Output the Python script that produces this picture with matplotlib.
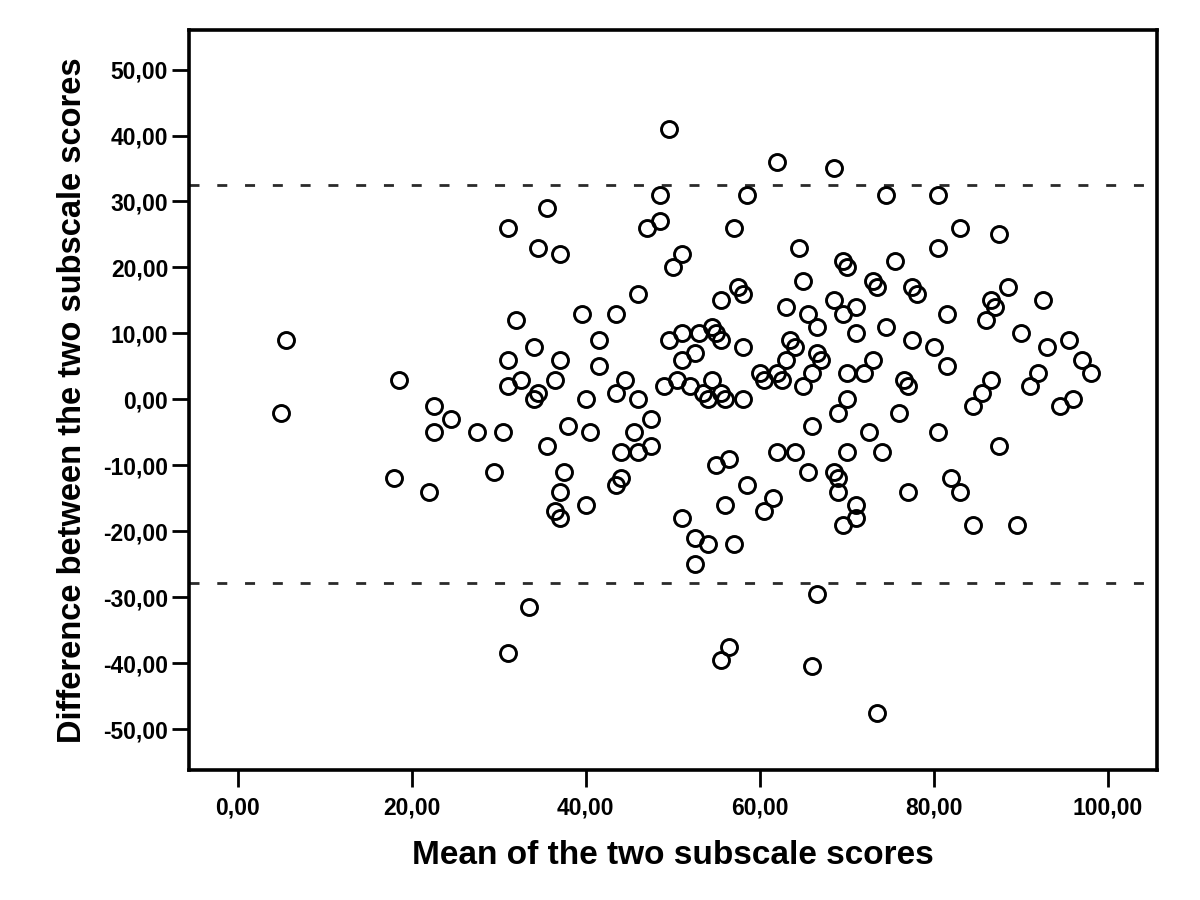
import numpy as np
import matplotlib
matplotlib.use("Agg")
import matplotlib.pyplot as plt
from matplotlib.ticker import FuncFormatter

# mean of the two subscale scores (x) and their difference (y)
mean_left = [5, 5.5, 18.5, 18, 22, 22.5, 22.5, 24.5, 27.5, 29.5, 30.5, 31, 31, 31, 32, 32.5,
             33.5, 31, 34, 34, 34.5, 34.5, 35.5, 35.5, 36.5, 36.5, 37, 37, 37, 37, 37.5, 38,
             39.5, 40, 40, 40.5, 41.5, 41.5, 43.5, 43.5, 43.5, 44, 44, 44.5, 45.5, 46, 46, 46,
             47, 47.5, 47.5, 48.5, 48.5, 49, 49.5, 49.5, 50, 50.5, 51, 51, 51, 51, 52, 52.5,
             52.5, 52.5, 53, 53.5, 54, 54, 54.5, 55, 55.5, 54.5, 55, 55.5, 55.5, 55.5, 56, 56,
             56.5, 56.5, 57, 57, 57.5, 58, 58, 58, 58.5, 58.5]
diff_left = [-2, 9, 3, -12, -14, -1, -5, -3, -5, -11, -5, 26, 6, 2, 12, 3,
             -31.5, -38.5, 0, 8, 23, 1, 29, -7, 3, -17, 6, 22, -14, -18, -11, -4,
             13, 0, -16, -5, 9, 5, 13, 1, -13, -12, -8, 3, -5, 16, 0, -8,
             26, -3, -7, 27, 31, 2, 41, 9, 20, 3, 22, 10, 6, -18, 2, 7,
             -21, -25, 10, 1, 0, -22, 11, 10, 9, 3, -10, 15, 1, -39.5, 0, -16,
             -9, -37.5, 26, -22, 17, 16, 8, 0, 31, -13]

mean_right = [60, 60.5, 60.5, 61.5, 62, 62, 62.5, 62, 63, 63.5, 64, 63, 64, 64.5, 65, 65.5,
              66.5, 66.5, 67, 66, 65, 65.5, 66, 66.5, 66, 68.5, 68.5, 69.5, 69.5, 70, 71, 71,
              70, 70, 69, 70, 68.5, 69, 69, 69.5, 71, 71, 72, 72.5, 73, 73.5, 73, 73.5,
              74, 74.5, 74.5, 75.5, 76.5, 77, 76, 77, 77.5, 78, 77.5, 80, 80.5, 80.5, 80.5, 81.5,
              81.5, 82, 83, 83, 84.5, 84.5, 85.5, 86, 86.5, 87, 86.5, 87.5, 87.5, 88.5, 89.5, 90,
              91, 92, 92.5, 93, 94.5, 95.5, 96, 97, 98]
diff_right = [4, 3, -17, -15, 36, 4, 3, -8, 14, 9, 8, 6, -8, 23, 18, 13,
              11, 7, 6, 4, 2, -11, -4, -29.5, -40.5, 35, 15, 13, 21, 20, 14, 10,
              4, 0, -2, -8, -11, -12, -14, -19, -16, -18, 4, -5, 18, 17, 6, -47.5,
              -8, 31, 11, 21, 3, 2, -2, -14, 17, 16, 9, 8, 31, 23, -5, 13,
              5, -12, 26, -14, -1, -19, 1, 12, 15, 14, 3, 25, -7, 17, -19, 10,
              2, 4, 15, 8, -1, 9, 0, 6, 4]

upper_loa = 32.5
lower_loa = -27.9

x = mean_left + mean_right
y = diff_left + diff_right

plt.rcParams['font.family'] = ['Liberation Sans', 'DejaVu Sans']

fig = plt.figure(figsize=(12, 9), dpi=100)
ax = fig.add_axes([0.1575, 0.1444, 0.8065, 0.8223])

ax.plot(x, y, 'o', ms=11.5, mfc='none', mec='black', mew=2.1, zorder=3)
ax.axhline(upper_loa, color='#2a2a2a', lw=2, dashes=(3.6, 6.4), zorder=2)
ax.axhline(lower_loa, color='#2a2a2a', lw=2, dashes=(3.6, 6.4), zorder=2)

ax.set_xlim(-5.6, 105.6)
ax.set_ylim(-56.2, 56.0)
ax.set_xticks(np.arange(0, 101, 20))
ax.set_yticks(np.arange(-50, 51, 10))
fmt = FuncFormatter(lambda v, p: ('%.2f' % v).replace('.', ','))
ax.xaxis.set_major_formatter(fmt)
ax.yaxis.set_major_formatter(fmt)

for s in ax.spines.values():
    s.set_linewidth(2.6)
ax.tick_params(direction='out', length=12, width=2, labelsize=16.5)
ax.tick_params(axis='y', pad=3)
ax.tick_params(axis='x', pad=7)
for lab in ax.get_xticklabels() + ax.get_yticklabels():
    lab.set_fontweight('bold')

ax.set_xlabel('Mean of the two subscale scores', fontsize=24, fontweight='bold', labelpad=15)
ax.set_ylabel('Difference between the two subscale scores', fontsize=23.5, fontweight='bold', labelpad=11)

fig.savefig('out.png', dpi=100)
